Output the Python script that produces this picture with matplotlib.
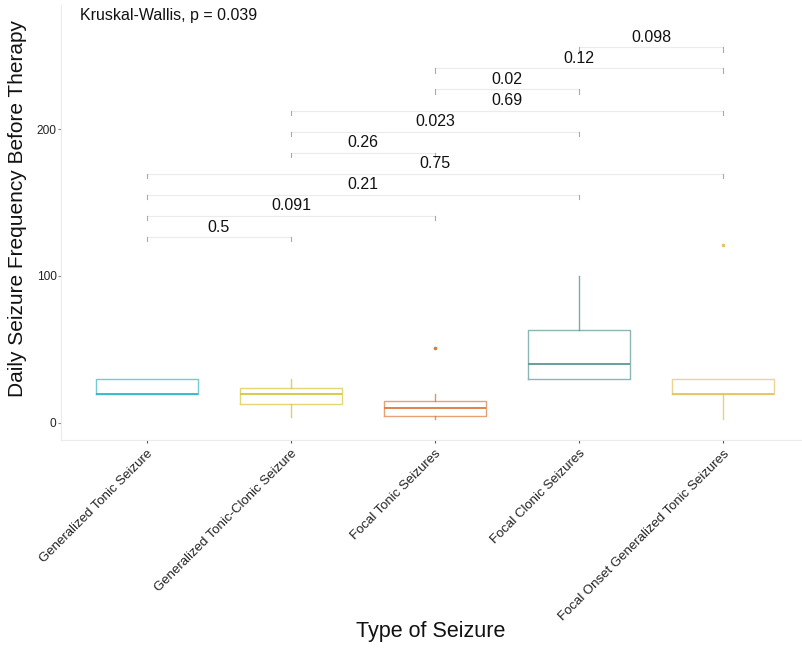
import matplotlib.pyplot as plt

plt.rcParams['font.family'] = ['Liberation Sans', 'DejaVu Sans']

# seizure types and box statistics
categories = ['Generalized Tonic Seizure', 'Generalized Tonic-Clonic Seizure',
              'Focal Tonic Seizures', 'Focal Clonic Seizures',
              'Focal Onset Generalized Tonic Seizures']
q1 = [20, 13, 5, 30, 20]
medians = [20, 20, 10, 40, 20]
q3 = [30, 24, 15, 63, 30]
whisker_low = [20, 4, 3, 30, 3]
whisker_high = [30, 30, 20, 100, 30]
outliers = [[], [], [51], [], [121]]
colors = ['#35B6CE', '#D6C63A', '#DC7A3C', '#5C9696', '#E6C363']

# pairwise comparisons (wilcoxon p-values) and global test
pairs = [(1, 2), (1, 3), (1, 4), (1, 5), (2, 3), (2, 4), (2, 5), (3, 4), (3, 5), (4, 5)]
p_values = ['0.5', '0.091', '0.21', '0.75', '0.26', '0.023', '0.69', '0.02', '0.12', '0.098']
kruskal_text = 'Kruskal-Wallis, p = 0.039'

bracket_base = 126.5
bracket_step = 14.35
tip_len = 3

fig = plt.figure(figsize=(8.03, 6.5), dpi=100)
ax = fig.add_axes([60.6 / 803, 210 / 650, (803 - 60.6) / 803, 435 / 650])

for i in range(len(categories)):
    stats = [dict(med=medians[i], q1=q1[i], q3=q3[i], whislo=whisker_low[i],
                  whishi=whisker_high[i], fliers=outliers[i])]
    c = colors[i]
    ax.bxp(stats, positions=[i + 1], widths=0.71, showcaps=False,
           boxprops=dict(color=c, lw=1.0, alpha=0.7),
           medianprops=dict(color=c, lw=1.3),
           whiskerprops=dict(color=c, lw=1.0, alpha=0.8),
           flierprops=dict(marker='o', markersize=1.6, markerfacecolor=c,
                           markeredgecolor=c))

# comparison brackets (very faint, as in the original render)
for k, ((a, b), p) in enumerate(zip(pairs, p_values)):
    y = bracket_base + k * bracket_step
    ax.plot([a, b], [y, y], color='#EBEBEB', lw=0.8)
    ax.plot([a, a], [y, y - tip_len], color='#AAAAAA', lw=0.8)
    ax.plot([b, b], [y, y - tip_len], color='#AAAAAA', lw=0.8)
    ax.text((a + b) / 2, y + 6.8, p, ha='center', va='center', fontsize=11.5,
            color='#111111')

ax.text(0.535, 277.5, kruskal_text, ha='left', va='center', fontsize=11.5,
        color='#111111')

ax.set_xlim(0.4, 0.4 + (803 - 60.6) / 144)
ax.set_ylim(-11.6, 284.4)
ax.set_xticks(range(1, len(categories) + 1))
ax.set_xticklabels(categories, rotation=45, ha='right', rotation_mode='anchor',
                   fontsize=9.5, color='#222222')
ax.set_yticks([0, 100, 200])
ax.tick_params(axis='y', length=2, color='#888888', labelsize=8.6,
               labelcolor='#222222', pad=1)
ax.tick_params(axis='x', length=2.5, color='#555555', pad=3)

for s in ['top', 'right']:
    ax.spines[s].set_visible(False)
for s in ['left', 'bottom']:
    ax.spines[s].set_color('#EBEBEB')
    ax.spines[s].set_linewidth(0.8)

fig.text(18 / 803, 1 - 208 / 650, 'Daily Seizure Frequency Before Therapy',
         rotation=90, ha='center', va='center', fontsize=15, color='#111111')
fig.text(431 / 803, 1 - 632 / 650, 'Type of Seizure', ha='center', va='center',
         fontsize=15.5, color='#111111')

fig.savefig('out.png', dpi=100)
